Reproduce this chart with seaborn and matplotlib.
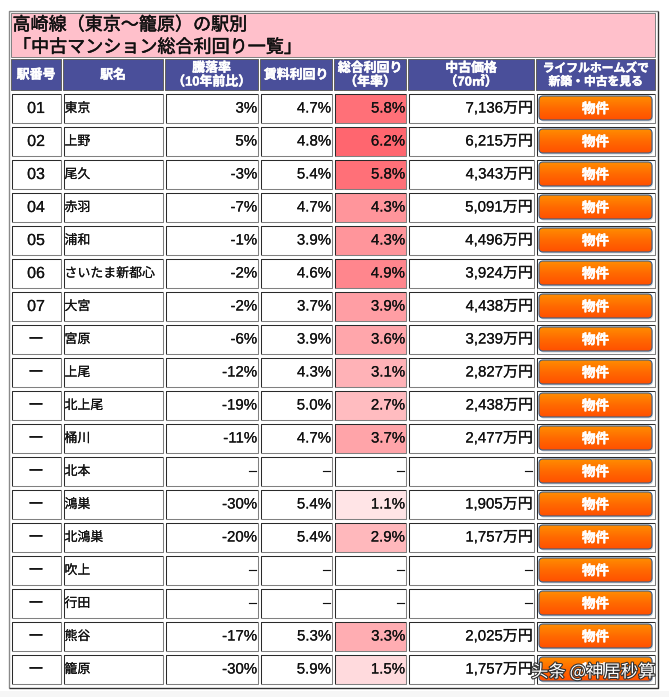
"""Takasaki line station table: used-condo total yield per station."""

import numpy as np
import pandas as pd
import matplotlib.pyplot as plt
import matplotlib.patheffects as pe
from matplotlib.colors import LinearSegmentedColormap
from matplotlib.patches import FancyBboxPatch, Rectangle
import seaborn as sns

WIDTH, HEIGHT = 669, 697
FONT = ["Liberation Sans", "Noto Sans CJK JP", "DejaVu Sans"]

TITLE_LINES = ["高崎線（東京～籠原）の駅別", "「中古マンション総合利回り一覧」"]
HEADERS = [
    "駅番号", "駅名", "騰落率\n（10年前比）", "賃料利回り",
    "総合利回り\n（年率）", "中古価格\n（70㎡）", "ライフルホームズで\n新築・中古を見る",
]
station_no = ["01", "02", "03", "04", "05", "06", "07"] + ["ー"] * 11
station_name = [
    "東京", "上野", "尾久", "赤羽", "浦和", "さいたま新都心", "大宮", "宮原", "上尾",
    "北上尾", "桶川", "北本", "鴻巣", "北鴻巣", "吹上", "行田", "熊谷", "籠原",
]
change_pct = [3, 5, -3, -7, -1, -2, -2, -6, -12, -19, -11, None, -30, -20, None, None, -17, -30]
rent_yield = [4.7, 4.8, 5.4, 4.7, 3.9, 4.6, 3.7, 3.9, 4.3, 5.0, 4.7, None, 5.4, 5.4, None, None, 5.3, 5.9]
total_yield = [5.8, 6.2, 5.8, 4.3, 4.3, 4.9, 3.9, 3.6, 3.1, 2.7, 3.7, None, 1.1, 2.9, None, None, 3.3, 1.5]
price_man = [7136, 6215, 4343, 5091, 4496, 3924, 4438, 3239, 2827, 2438, 2477, None, 1905, 1757, None, None, 2025, 1757]
BUTTON_LABEL = "物件"
WATERMARK = "头条 @神居秒算"

# Column edges in pixels, left and right of each cell
COLUMNS = [(11, 61), (63, 163), (165, 258), (260, 332), (334, 406), (408, 534), (536, 655)]
ROW_TOP, ROW_PITCH, ROW_H = 93, 33, 30

sns.set_theme(style="white")
plt.rcParams["font.family"] = FONT

df = pd.DataFrame({
    "no": station_no, "name": station_name, "change": change_pct,
    "rent": rent_yield, "total": total_yield, "price": price_man,
})
n_rows = len(df)

# Thin same-colour strokes, the source was rendered heavier than Noto regular
HEAVY = [pe.withStroke(linewidth=0.35, foreground="#111111")]
LIGHT_HEAVY = [pe.withStroke(linewidth=0.12, foreground="#111111")]
WHITE_HEAVY = [pe.withStroke(linewidth=0.35, foreground="white")]


def cell_box(ax, x0, y0, x1, y1, dark="#2a2a2a", light="#808080", lw=0.75, zorder=5):
    """Inset table border: dark on top/left, grey on bottom/right."""
    ax.plot([x0, x0, x1], [y1, y0, y0], color=dark, lw=lw, zorder=zorder, solid_capstyle="butt")
    ax.plot([x0, x1, x1], [y1, y1, y0], color=light, lw=lw, zorder=zorder, solid_capstyle="butt")


def draw_button(ax, x0, y0, x1, y1):
    """Orange gradient button with a soft grey shadow."""
    shadow = FancyBboxPatch((x0 + 1, y0 + 1.5), x1 - x0, y1 - y0, boxstyle="round,pad=0,rounding_size=4",
                            fc="#d2d2d2", ec="none", zorder=3)
    ax.add_patch(shadow)
    outline = FancyBboxPatch((x0, y0), x1 - x0, y1 - y0, boxstyle="round,pad=0,rounding_size=4",
                             fc="none", ec="#3f5f85", lw=0.8, zorder=5)
    ax.add_patch(outline)
    grad = LinearSegmentedColormap.from_list("btn", ["#ff8c00", "#ff6a00", "#ff5000"])
    img = ax.imshow(np.linspace(0, 1, 32).reshape(-1, 1), cmap=grad, aspect="auto",
                    extent=(x0, x1, y1, y0), zorder=4)
    img.set_clip_path(outline)


fig = plt.figure(figsize=(WIDTH / 100, HEIGHT / 100), dpi=100, facecolor="white")

# Yield column is a real heatmap, white gaps between cells
gap = 3
hx0, hx1 = COLUMNS[4]
hy0 = ROW_TOP - gap / 2
hy1 = hy0 + ROW_PITCH * n_rows
ax_heat = fig.add_axes([(hx0 - gap / 2) / WIDTH, 1 - hy1 / HEIGHT, (hx1 - hx0 + gap) / WIDTH, (hy1 - hy0) / HEIGHT])
yield_cmap = LinearSegmentedColormap.from_list("yield", ["#ffffff", "#ff666f"])
sns.heatmap(
    df[["total"]].astype(float), ax=ax_heat, cmap=yield_cmap, vmin=0, vmax=6.2,
    cbar=False, linewidths=gap * 0.72, linecolor="white", xticklabels=False, yticklabels=False,
)

# Everything else sits on a transparent pixel-coordinate overlay
ax = fig.add_axes([0, 0, 1, 1], zorder=2)
ax.patch.set_alpha(0)
ax.set_axis_off()

# Outer table frame and title band
cell_box(ax, 8.5, 10.5, 657.5, 687.5, dark="#8a8a8a", light="#333333", lw=1.0)
ax.add_patch(Rectangle((11, 13), 644, 43.5, fc="#ffc0cb", ec="#808080", lw=0.7, zorder=2))
ax.text(12.5, 25.5, TITLE_LINES[0], fontsize=13, color="#111111", va="center", ha="left", zorder=6, path_effects=HEAVY)
ax.text(13, 48, TITLE_LINES[1], fontsize=13, color="#111111", va="center", ha="left", zorder=6, path_effects=HEAVY)

# Header row
for (x0, x1), label in zip(COLUMNS, HEADERS):
    ax.add_patch(Rectangle((x0, 59), x1 - x0, 31, fc="#4a4f9a", ec="#606060", lw=0.7, zorder=2))
    size = 8.5 if "ライフル" in label else 9.3
    ax.text((x0 + x1) / 2, 75.5, label, fontsize=size, fontweight="bold", color="white",
            ha="center", va="center", linespacing=1.15, zorder=6, path_effects=WHITE_HEAVY)

# Body rows
for i, row in enumerate(df.itertuples(index=False)):
    y0 = ROW_TOP + i * ROW_PITCH
    y1 = y0 + ROW_H
    ym = y0 + ROW_H / 2
    for x0, x1 in COLUMNS:
        cell_box(ax, x0 + 0.5, y0 + 0.5, x1 - 0.5, y1 - 0.5)

    ax.text(sum(COLUMNS[0]) / 2, ym + 0.5, row.no, fontsize=11.5, color="#111111", ha="center", va="center",
            zorder=6, path_effects=LIGHT_HEAVY)
    ax.text(COLUMNS[1][0] + 1.5, ym + 1, row.name, fontsize=9.3, color="#111111", ha="left", va="center",
            zorder=6, path_effects=LIGHT_HEAVY)

    texts = [
        "–" if pd.isna(row.change) else f"{row.change:.0f}%",
        "–" if pd.isna(row.rent) else f"{row.rent:.1f}%",
        "–" if pd.isna(row.total) else f"{row.total:.1f}%",
        "–" if pd.isna(row.price) else f"{row.price:,.0f}万円",
    ]
    for (x0, x1), label in zip(COLUMNS[2:6], texts):
        ax.text(x1 - 1, ym + 0.5, label, fontsize=10.8, color="#111111",
                ha="right", va="center", zorder=6, path_effects=LIGHT_HEAVY)

    bx0, bx1 = COLUMNS[6]
    draw_button(ax, bx0 + 3, y0 + 3, bx1 - 3, y1 - 3)
    ax.text((bx0 + bx1) / 2, ym + 1, BUTTON_LABEL, fontsize=9.8, fontweight="bold", color="white",
            ha="center", va="center", zorder=6, path_effects=WHITE_HEAVY)

# Faint page edge under the table
ax.add_patch(Rectangle((0, 691), WIDTH, 6, fc="#f6f6f6", ec="none", zorder=1))

ax.text(531, 672, WATERMARK, fontsize=12.5, color="white", family=["Noto Sans CJK SC", "DejaVu Sans"],
        ha="left", va="center", zorder=8,
        path_effects=[pe.withStroke(linewidth=1.6, foreground="#333333")])

ax.set_xlim(0, WIDTH)
ax.set_ylim(HEIGHT, 0)

fig.savefig("out.png", dpi=100)
